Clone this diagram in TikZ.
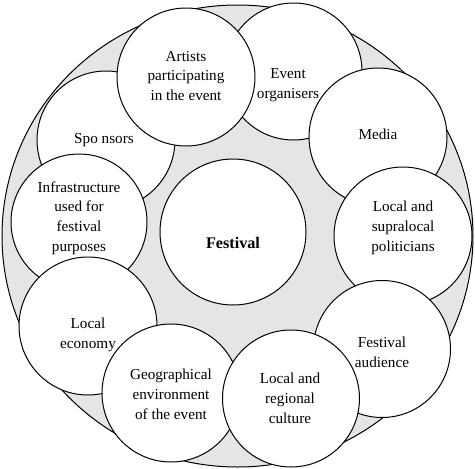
\documentclass[tikz,border=0pt]{standalone}
\usepackage{fontspec}
\setmainfont{Liberation Serif}
\begin{document}
\begin{tikzpicture}[x=1pt,y=-1pt,
  disc/.style={draw=black,line width=1pt,fill=white,circle,inner sep=0pt,minimum size=#1},
  lbl/.style={align=center,inner sep=0pt,font=\fontsize{15.2}{19.8}\selectfont},
  blbl/.style={align=center,inner sep=0pt,font=\fontsize{16.2}{20}\selectfont\bfseries}]
\useasboundingbox (0,0) rectangle (475,469);
% outer ring
\draw[line width=1pt,fill=gray!20] (237.5,236) ellipse [x radius=235.5,y radius=231];
% circles (drawing order gives the overlaps)
\node[disc=137pt] (org) at (293.5,71.5) {};
\node[disc=138pt] (med) at (378,137) {};
\node[disc=138pt] (pol) at (403,236) {};
\node[disc=137pt] (aud) at (382,349) {};
\node[disc=138pt] (spo) at (106,140) {};
\node[disc=136pt] (inf) at (79,222) {};
\node[disc=138pt] (eco) at (88,326) {};
\node[disc=138pt] (geo) at (171,393) {};
\node[disc=137pt] (cul) at (291,398.5) {};
\node[disc=138pt] (art) at (186,77) {};
\node[disc=146pt] (fes) at (233,232) {};
% texts
\node[lbl] (t-art) at (186,76) {Artists\\participating\\in the event};
\node[lbl] (t-org) at (288,85) {Event\\organisers};
\node[lbl] (t-med) at (378,134) {Media};
\node[lbl] (t-pol) at (403,228) {Local and\\supralocal\\politicians};
\node[lbl] (t-aud) at (382,352) {Festival\\audience};
\node[lbl] (t-cul) at (290,398) {Local and\\regional\\culture};
\node[lbl] (t-geo) at (171,394) {Geographical\\environment\\of the event};
\node[lbl] (t-eco) at (88,335) {Local\\economy};
\node[lbl] (t-inf) at (79,218) {Infrastructure\\used for\\festival\\purposes};
\node[lbl] (t-spo) at (104,140) {Spo nsors};
\node[blbl] (t-fes) at (233,243) {Festival};
\end{tikzpicture}
\end{document}
